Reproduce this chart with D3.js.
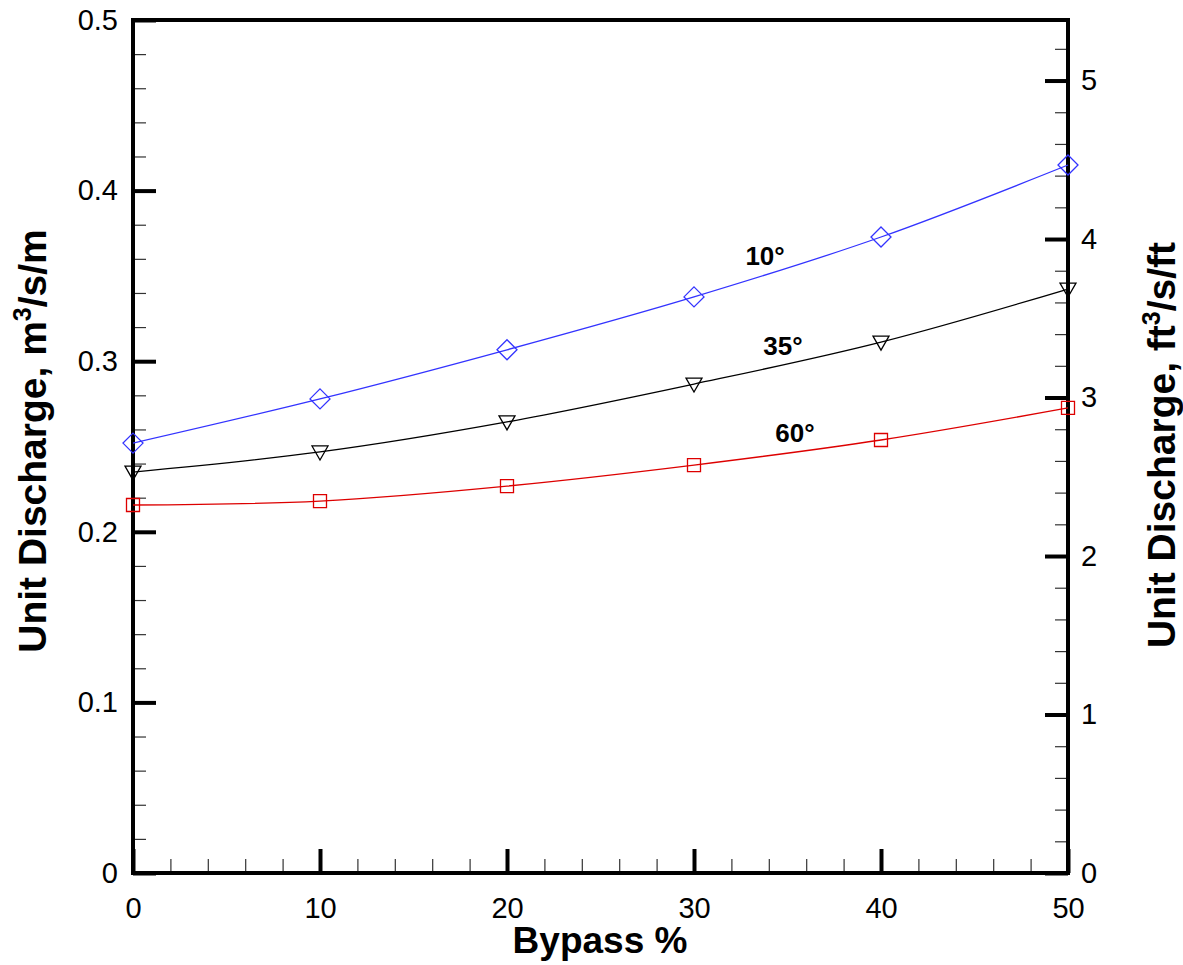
<!DOCTYPE html>
<html>
<head>
<meta charset="utf-8">
<script src="https://cdn.jsdelivr.net/npm/d3@7"></script>
<style>
  body { margin: 0; background: #fff; }
  * { font-family: "Liberation Sans", Arial, Helvetica, sans-serif; }
</style>
</head>
<body>
<div class="container"></div>
<script>
const width = 1183;
const height = 965;

// data
const bypass = [0, 10, 20, 30, 40, 50];
const q10 = [0.252, 0.2779, 0.3067, 0.3377, 0.3728, 0.415];
const q35 = [0.235, 0.2468, 0.2644, 0.2866, 0.3112, 0.3423];
const q60 = [0.2157, 0.218, 0.2268, 0.2391, 0.2538, 0.2726];
const seriesNames = ["10°", "35°", "60°"];
const labelAt = [[33.8, 0.3564], [34.76, 0.3036], [35.4, 0.2526]];
const xTicks = [0, 10, 20, 30, 40, 50];
const yTicks = [0, 0.1, 0.2, 0.3, 0.4, 0.5];
const ftTicks = [0, 1, 2, 3, 4, 5];
const M2FT = 10.7639;

const plotLeft = 133, plotRight = 1068, plotTop = 20, plotBottom = 873;

const x = d3.scaleLinear().domain([0, 50]).range([plotLeft, plotRight]);
const y = d3.scaleLinear().domain([0, 0.5]).range([plotBottom, plotTop]);
const yFt = d3.scaleLinear().domain([0, 0.5 * M2FT]).range([plotBottom, plotTop]);

const svg = d3.select(".container")
  .append("svg")
  .attr("width", width)
  .attr("height", height)
  .attr("viewBox", `0 0 ${width} ${height}`);

svg.append("rect")
  .attr("width", width)
  .attr("height", height)
  .attr("fill", "#fff");

// minor ticks
const minorX = d3.range(0, 50.01, 2).filter(v => v % 10 !== 0);
const minorY = d3.range(0, 0.5001, 0.02).filter(v => Math.abs(v * 10 - Math.round(v * 10)) > 1e-6);
const minorFt = d3.range(0, 5.38, 0.2).filter(v => Math.abs(v - Math.round(v)) > 1e-6);

// bottom axis
svg.append("g")
  .attr("transform", `translate(0,${plotBottom})`)
  .call(d3.axisBottom(x).tickValues(minorX).tickSize(-14).tickFormat(""))
  .call(g => g.selectAll(".tick line").attr("stroke", "#333").attr("stroke-width", 1.2))
  .call(g => g.select(".domain").remove());
svg.append("g")
  .attr("transform", `translate(0,${plotBottom})`)
  .call(d3.axisBottom(x).tickValues(xTicks).tickSize(-24).tickPadding(36).tickFormat(d3.format("d")))
  .call(g => g.selectAll(".tick line").attr("stroke", "#000").attr("stroke-width", 4))
  .call(g => g.selectAll(".tick text").style("font-size", "29px").attr("fill", "#000").attr("dy", "0.3em"))
  .call(g => g.select(".domain").remove());

// left axis
svg.append("g")
  .attr("transform", `translate(${plotLeft},0)`)
  .call(d3.axisLeft(y).tickValues(minorY).tickSize(-13).tickFormat(""))
  .call(g => g.selectAll(".tick line").attr("stroke", "#333").attr("stroke-width", 1.2))
  .call(g => g.select(".domain").remove());
svg.append("g")
  .attr("transform", `translate(${plotLeft},0)`)
  .call(d3.axisLeft(y).tickValues(yTicks).tickSize(-23).tickPadding(15)
    .tickFormat(d => d === 0 ? "0" : d3.format(".1f")(d)))
  .call(g => g.selectAll(".tick line").attr("stroke", "#000").attr("stroke-width", 4))
  .call(g => g.selectAll(".tick text").style("font-size", "29px").attr("fill", "#000"))
  .call(g => g.select(".domain").remove());

// right axis
svg.append("g")
  .attr("transform", `translate(${plotRight},0)`)
  .call(d3.axisRight(yFt).tickValues(minorFt).tickSize(-13).tickFormat(""))
  .call(g => g.selectAll(".tick line").attr("stroke", "#333").attr("stroke-width", 1.2))
  .call(g => g.select(".domain").remove());
svg.append("g")
  .attr("transform", `translate(${plotRight},0)`)
  .call(d3.axisRight(yFt).tickValues(ftTicks).tickSize(-23).tickPadding(13).tickFormat(d3.format("d")))
  .call(g => g.selectAll(".tick line").attr("stroke", "#000").attr("stroke-width", 4))
  .call(g => g.selectAll(".tick text").style("font-size", "29px").attr("fill", "#000"))
  .call(g => g.select(".domain").remove());

// frame
svg.append("rect")
  .attr("x", plotLeft)
  .attr("y", plotTop)
  .attr("width", plotRight - plotLeft)
  .attr("height", plotBottom - plotTop)
  .attr("fill", "none")
  .attr("stroke", "#000")
  .attr("stroke-width", 4);

// series
const series = [
  { name: seriesNames[0], values: q10, color: "#3333ff", symbol: "diamond" },
  { name: seriesNames[1], values: q35, color: "#000000", symbol: "tri" },
  { name: seriesNames[2], values: q60, color: "#dd0000", symbol: "square" }
];

const line = d3.line()
  .x(d => x(d[0]))
  .y(d => y(d[1]))
  .curve(d3.curveCatmullRom.alpha(0.5));

const symbolPath = (s) => {
  if (s === "diamond") return "M0,-10L10,0L0,10L-10,0Z";
  if (s === "tri") return "M-8,-6L8,-6L0,8Z";
  return "M-6.5,-6.5L6.5,-6.5L6.5,6.5L-6.5,6.5Z";
};

series.forEach((s, i) => {
  const pts = bypass.map((b, j) => [b, s.values[j]]);
  svg.append("path")
    .datum(pts)
    .attr("d", line)
    .attr("fill", "none")
    .attr("stroke", s.color)
    .attr("stroke-width", 1.3);
  svg.append("g")
    .selectAll("path")
    .data(pts)
    .join("path")
    .attr("transform", d => `translate(${x(d[0])},${y(d[1])})`)
    .attr("d", symbolPath(s.symbol))
    .attr("fill", "none")
    .attr("stroke", s.color)
    .attr("stroke-width", 1.3);
  svg.append("text")
    .attr("x", x(labelAt[i][0]))
    .attr("y", y(labelAt[i][1]))
    .attr("text-anchor", "middle")
    .style("font-size", "26px")
    .style("font-weight", "bold")
    .attr("fill", "#000")
    .text(s.name);
});

// axis titles
svg.append("text")
  .attr("x", 600)
  .attr("y", 953)
  .attr("text-anchor", "middle")
  .style("font-size", "37px")
  .style("font-weight", "bold")
  .text("Bypass %");

const yl = svg.append("text")
  .attr("transform", `translate(46,441) rotate(-90)`)
  .attr("text-anchor", "middle")
  .style("font-size", "39px")
  .style("font-weight", "bold");
yl.append("tspan").text("Unit Discharge, m");
yl.append("tspan").attr("dy", -15).style("font-size", "25px").text("3");
yl.append("tspan").attr("dy", 15).text("/s/m");

const yr = svg.append("text")
  .attr("transform", `translate(1175,445) rotate(-90)`)
  .attr("text-anchor", "middle")
  .style("font-size", "39px")
  .style("font-weight", "bold");
yr.append("tspan").text("Unit Discharge, ft");
yr.append("tspan").attr("dy", -15).style("font-size", "25px").text("3");
yr.append("tspan").attr("dy", 15).text("/s/ft");
</script>
</body>
</html>
